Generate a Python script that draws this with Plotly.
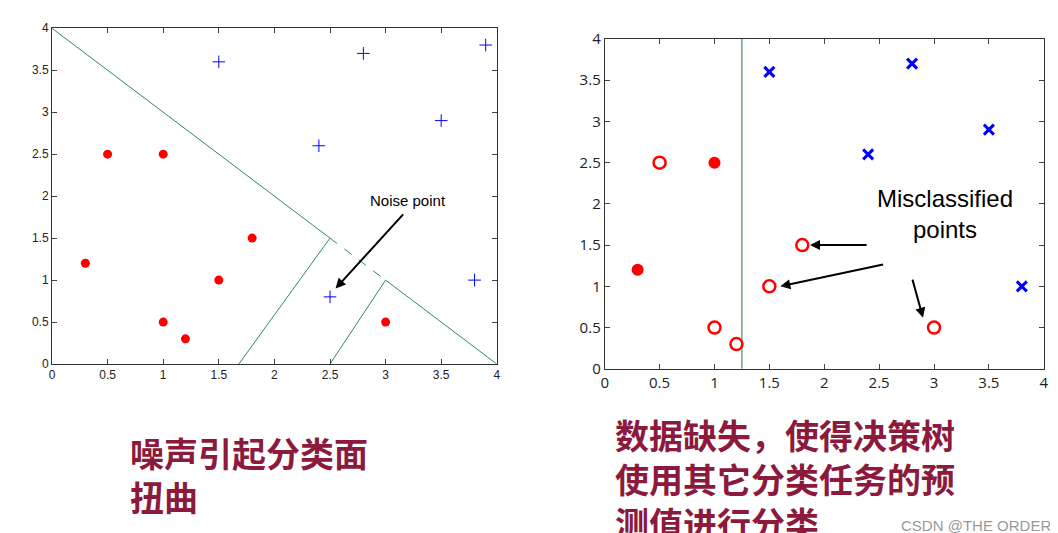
import plotly.graph_objects as go

# left chart
red_x = [0.3, 0.5, 1.0, 1.0, 1.2, 1.5, 1.8, 3.0]
red_y = [1.2, 2.5, 2.5, 0.5, 0.3, 1.0, 1.5, 0.5]
blue_x = [1.5, 2.4, 2.5, 2.8, 3.5, 3.8, 3.9]
blue_y = [3.6, 2.6, 0.8, 3.7, 2.9, 1.0, 3.8]
bound_x = [0, 2.5, None, 3, 4, None, 1.68, 2.5, None, 2.5, 3]
bound_y = [4, 1.5, None, 1, 0, None, 0, 1.5, None, 0, 1]
dash_x = [2.5, 3]
dash_y = [1.5, 1]

# right chart
open_x = [0.5, 1.0, 1.2, 1.5, 1.8, 3.0]
open_y = [2.5, 0.5, 0.3, 1.0, 1.5, 0.5]
fill_x = [0.3, 1.0]
fill_y = [1.2, 2.5]
bx2 = [1.5, 2.4, 2.8, 3.5, 3.8]
by2 = [3.6, 2.6, 3.7, 2.9, 1.0]
split_x = [1.25, 1.25]
split_y = [0, 4]

ticks = [0, 0.5, 1, 1.5, 2, 2.5, 3, 3.5, 4]
tick_text = ["0", "0.5", "1", "1.5", "2", "2.5", "3", "3.5", "4"]
green = "#2E8B57"

fig = go.Figure()
fig.add_trace(go.Scatter(x=bound_x, y=bound_y, mode="lines", line=dict(color=green, width=1), xaxis="x", yaxis="y"))
fig.add_trace(go.Scatter(x=dash_x, y=dash_y, mode="lines", line=dict(color=green, width=1, dash="dash"), xaxis="x", yaxis="y"))
fig.add_trace(go.Scatter(x=red_x, y=red_y, mode="markers", marker=dict(color="red", size=9), xaxis="x", yaxis="y"))
fig.add_trace(go.Scatter(x=blue_x, y=blue_y, mode="markers",
                         marker=dict(symbol="cross-thin", size=9, line=dict(color="blue", width=1)), xaxis="x", yaxis="y"))

fig.add_trace(go.Scatter(x=split_x, y=split_y, mode="lines", line=dict(color="#1a7a3a", width=1), xaxis="x2", yaxis="y2"))
fig.add_trace(go.Scatter(x=open_x, y=open_y, mode="markers",
                         marker=dict(symbol="circle-open", color="red", size=12, line=dict(width=2.5)), xaxis="x2", yaxis="y2"))
fig.add_trace(go.Scatter(x=fill_x, y=fill_y, mode="markers", marker=dict(color="red", size=12), xaxis="x2", yaxis="y2"))
fig.add_trace(go.Scatter(x=bx2, y=by2, mode="markers",
                         marker=dict(symbol="x-thin", size=10, line=dict(color="blue", width=3)), xaxis="x2", yaxis="y2"))

axis = dict(range=[0, 4], tickvals=ticks, ticktext=tick_text, showgrid=False, zeroline=False,
            linecolor="#333", linewidth=1, mirror="ticks", ticks="inside", ticklen=5, automargin=False,
            tickfont=dict(size=12, color="#222", family="Liberation Sans"))
fig.update_layout(
    width=1058, height=533, margin=dict(l=0, r=0, t=0, b=0),
    plot_bgcolor="white", paper_bgcolor="white", showlegend=False,
    xaxis=dict(axis, domain=[0.0416, 0.462], anchor="y"),
    yaxis=dict(axis, domain=[0.332, 0.962], anchor="x"),
    xaxis2=dict(axis, domain=[0.564, 0.979], anchor="y2", tickfont=dict(size=15, color="#222")),
    yaxis2=dict(axis, domain=[0.323, 0.942], anchor="x2", tickfont=dict(size=15, color="#222")),
)

fig.add_annotation(x=2.55, y=0.9, ax=3.17, ay=1.8, xref="x", yref="y", axref="x", ayref="y",
                   showarrow=True, arrowhead=2, arrowwidth=2, arrowcolor="black", text="")
fig.add_annotation(x=3.2, y=1.82, xref="x", yref="y", text="Noise point", showarrow=False,
                   xanchor="center", yanchor="bottom", font=dict(size=15, color="black", family="Liberation Sans"))

fig.add_annotation(x=3.1, y=1.88, xref="x2", yref="y2", text="Misclassified<br>points", showarrow=False,
                   font=dict(size=24, color="black", family="Liberation Sans"))
fig.add_annotation(x=1.87, y=1.5, ax=2.4, ay=1.5, xref="x2", yref="y2", axref="x2", ayref="y2",
                   showarrow=True, arrowhead=2, arrowwidth=2, arrowcolor="black", text="")
fig.add_annotation(x=1.6, y=1.0, ax=2.55, ay=1.27, xref="x2", yref="y2", axref="x2", ayref="y2",
                   showarrow=True, arrowhead=2, arrowwidth=2, arrowcolor="black", text="")
fig.add_annotation(x=2.9, y=0.62, ax=2.8, ay=1.1, xref="x2", yref="y2", axref="x2", ayref="y2",
                   showarrow=True, arrowhead=2, arrowwidth=2, arrowcolor="black", text="")

cn_font = dict(size=34, color="#8B1A3C", family="Noto Sans CJK SC")
fig.add_annotation(x=120, y=533 - 418, xref="paper", yref="paper", text="<b>噪声引起分类面<br>扭曲</b>",
                   showarrow=False, xanchor="left", yanchor="top", align="left", font=cn_font)
fig.add_annotation(x=605, y=533 - 400, xref="paper", yref="paper",
                   text="<b>数据缺失，使得决策树<br>使用其它分类任务的预<br>测值进行分类</b>",
                   showarrow=False, xanchor="left", yanchor="top", align="left", font=cn_font)
fig.add_annotation(x=1045, y=16, xref="paper", yref="paper", text="CSDN @THE ORDER", showarrow=False,
                   xanchor="right", yanchor="middle", font=dict(size=15, color="#999", family="Liberation Sans"))

# pixel positions -> paper
for a in fig.layout.annotations:
    if a.xref == "paper" and a.x > 1:
        a.x = a.x / 1058
        a.y = a.y / 533

fig.write_html("out.html")
